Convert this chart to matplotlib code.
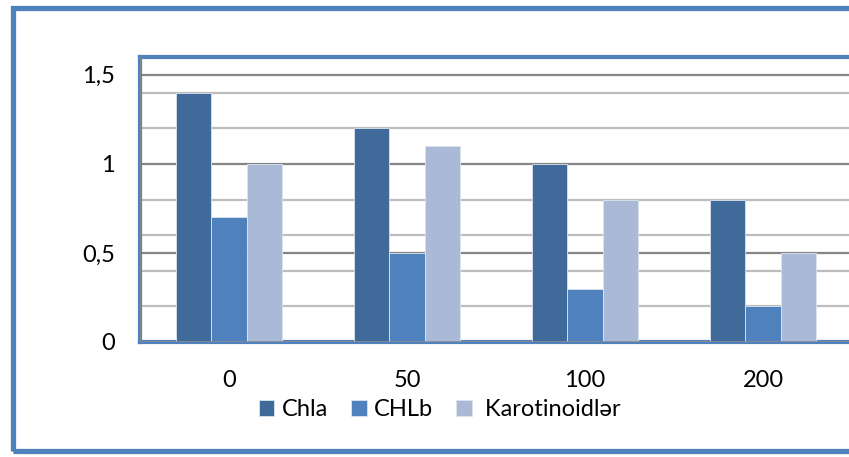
import matplotlib.pyplot as plt
import numpy as np
from matplotlib.patches import Rectangle

# pigment content by salt dose
doses = ['0', '50', '100', '200']
chla = [1.4, 1.2, 1.0, 0.8]
chlb = [0.7, 0.5, 0.3, 0.2]
karot = [1.0, 1.1, 0.8, 0.5]
series_names = ['Chla', 'CHLb', ' Karotinoidlər']
colors = ['#3F6A9A', '#4F81BD', '#A9B9D6']
frame_blue = '#4F81BD'

plt.rcParams['font.family'] = ['Lato', 'DejaVu Sans']

fig = plt.figure(figsize=(8.49, 4.57), dpi=100)

# outer border around the whole chart
fig.patches.append(Rectangle((12.5 / 849, 6.5 / 457), 1.2, 443 / 457,
                             transform=fig.transFigure, fill=False,
                             edgecolor=frame_blue, lw=3.8, zorder=0))

ax = fig.add_axes([140 / 849, (457 - 342) / 457, 712 / 849, 285 / 457])

x = np.arange(len(doses))
w = 0.2
for i, vals in enumerate([chla, chlb, karot]):
    ax.bar(x + (i - 1) * w, vals, w, color=colors[i], edgecolor='#DCE4EF',
           linewidth=0.6, label=series_names[i], zorder=3)

ax.set_xlim(-0.5, 3.5)
ax.set_ylim(0, 1.6)

# light gridlines every 0.2, darker ones at the labelled ticks
for v in [0.2, 0.4, 0.6, 0.8, 1.2, 1.4]:
    ax.axhline(v, color='#BDBDBD', lw=1.6, zorder=1)
for v in [0.5, 1.0, 1.5]:
    ax.axhline(v, color='#858585', lw=1.6, zorder=2)

ax.set_yticks([0, 0.5, 1.0, 1.5])
ax.set_yticklabels(['0', '0,5', '1', '1,5'])
ax.set_xticks(x)
ax.set_xticklabels(doses)
ax.tick_params(axis='y', length=0, pad=18, labelsize=17)
ax.tick_params(axis='x', length=0, pad=20, labelsize=17)

for side in ['left', 'top', 'bottom']:
    ax.spines[side].set_color(frame_blue)
    ax.spines[side].set_linewidth(3)
ax.spines['right'].set_visible(False)
ax.axvline(-0.5, color='#8C8C8C', lw=1.2, zorder=4)
ax.axhline(0, color='#8C8C8C', lw=1.2, zorder=4)

handles, labels = ax.get_legend_handles_labels()
fig.legend(handles, labels, ncol=3, loc='center', bbox_to_anchor=(0.518, 0.103),
           frameon=False, fontsize=17, handlelength=0.65, handleheight=0.65,
           handletextpad=0.3, columnspacing=1.0)

fig.savefig('out.png', dpi=100)
